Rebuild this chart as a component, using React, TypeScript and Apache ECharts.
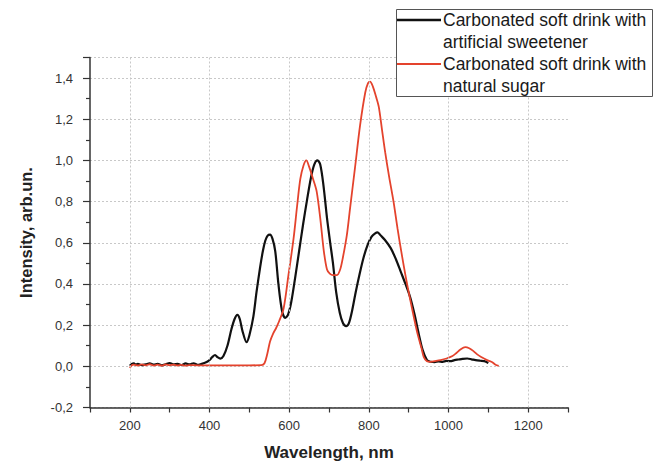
import React, { useEffect, useRef } from "react";
import * as echarts from "echarts";

const blackX = [200,205,210,215,220,230,240,250,260,270,280,290,300,310,320,330,340,350,360,370,380,390,400,407,414,420,427,435,445,455,463,470,476,483,493,500,510,518,527,534,540,546,552,558,565,573,582,590,597,605,615,625,635,645,655,663,671,678,686,695,703,710,718,727,735,743,750,758,767,777,787,797,807,815,822,830,840,855,868,880,892,904,915,925,935,946,955,965,975,985,995,1005,1015,1025,1035,1047,1058,1068,1080,1090,1100];
const blackY = [0.003,0.012,0.015,0.008,0.012,0.006,0.01,0.014,0.008,0.012,0.005,0.01,0.016,0.009,0.012,0.006,0.014,0.009,0.015,0.007,0.012,0.018,0.03,0.045,0.055,0.045,0.037,0.05,0.1,0.18,0.23,0.25,0.23,0.17,0.117,0.15,0.24,0.36,0.48,0.56,0.61,0.635,0.64,0.62,0.56,0.4,0.27,0.235,0.25,0.31,0.43,0.56,0.69,0.81,0.92,0.98,1.0,0.98,0.88,0.72,0.6,0.5,0.36,0.26,0.21,0.195,0.21,0.27,0.36,0.45,0.53,0.59,0.63,0.645,0.651,0.635,0.615,0.574,0.52,0.46,0.4,0.334,0.25,0.16,0.08,0.03,0.022,0.02,0.024,0.022,0.026,0.025,0.03,0.033,0.036,0.038,0.034,0.03,0.027,0.025,0.016];

const redX = [200,205,210,220,230,240,250,260,270,280,290,300,310,320,330,340,350,370,400,450,500,530,538,545,552,560,567,575,586,598,611,620,628,636,643,650,660,669,678,687,695,702,710,720,728,735,745,753,765,778,791,798,803,810,818,825,833,841,851,862,872,883,895,908,922,932,938,946,955,965,980,995,1010,1020,1030,1042,1052,1062,1072,1082,1092,1100,1110,1118,1126];
const redY = [-0.008,0.005,0.008,0.004,0.009,0.005,0.01,0.004,0.008,0.003,0.009,0.005,0.008,0.004,0.007,0.003,0.006,0.005,0.005,0.005,0.005,0.006,0.015,0.06,0.12,0.16,0.185,0.22,0.28,0.44,0.62,0.78,0.91,0.975,1.0,0.97,0.91,0.85,0.72,0.56,0.47,0.45,0.443,0.443,0.47,0.53,0.64,0.77,0.96,1.17,1.33,1.375,1.383,1.36,1.31,1.26,1.15,1.04,0.92,0.8,0.67,0.54,0.41,0.285,0.16,0.09,0.045,0.025,0.022,0.025,0.03,0.038,0.05,0.065,0.082,0.093,0.088,0.075,0.058,0.045,0.035,0.028,0.02,0.008,0.002];

const gridX = [200, 400, 600, 800, 1000, 1200];
const legendLabels = [
  ["Carbonated soft drink with", "artificial sweetener"],
  ["Carbonated soft drink with", "natural sugar"],
];
const seriesColors = ["#111111", "#e4432d"];

export default function App() {
  const ref = useRef<HTMLDivElement>(null);
  useEffect(() => {
    if (!ref.current) return;
    const chart = echarts.init(ref.current, null, { renderer: "svg" });
    const font = "'Liberation Sans', Arial, sans-serif";
    const legendTop = 9;
    const rowH = 22;
    const graphic: any[] = [
      {
        type: "rect",
        shape: { x: 396.5, y: 9.5, width: 256, height: 87 },
        style: { fill: "#fff", stroke: "#555", lineWidth: 1 },
        z: 100,
      },
    ];
    legendLabels.forEach((lines, i) => {
      const y0 = legendTop + 11 + i * 2 * rowH;
      graphic.push({
        type: "line",
        shape: { x1: 397, y1: y0, x2: 441, y2: y0 },
        style: { stroke: seriesColors[i], lineWidth: i === 0 ? 2.5 : 2 },
        z: 101,
      });
      lines.forEach((t, j) => {
        graphic.push({
          type: "text",
          x: 443,
          y: y0 + j * rowH,
          style: {
            text: t,
            font: `17.5px ${font}`,
            fill: "#1a1a1a",
            textVerticalAlign: "middle",
            verticalAlign: "middle",
          },
          z: 101,
        });
      });
    });

    chart.setOption({
      animation: false,
      backgroundColor: "#fff",
      grid: { left: 90, right: 93, top: 57.5, bottom: 54.5 },
      xAxis: {
        type: "value",
        min: 100,
        max: 1300,
        interval: 100,
        name: "Wavelength, nm",
        nameLocation: "middle",
        nameGap: 36.5,
        nameTextStyle: { fontFamily: font, fontSize: 17, fontWeight: "bold", color: "#222" },
        axisLine: { show: true, onZero: false, lineStyle: { color: "#333", width: 1.5 } },
        axisTick: { show: true, length: 5, lineStyle: { color: "#333", width: 1.2 } },
        axisLabel: {
          fontFamily: font,
          fontSize: 13,
          color: "#333",
          margin: 11,
          formatter: (v: number) => (v % 200 === 0 && v <= 1200 ? String(v) : ""),
        },
        splitLine: { show: false },
      },
      yAxis: {
        type: "value",
        min: -0.2,
        max: 1.5,
        interval: 0.2,
        name: "Intensity, arb.un.",
        nameLocation: "middle",
        nameGap: 55.5,
        nameRotate: 90,
        nameTextStyle: { fontFamily: font, fontSize: 16.5, fontWeight: "bold", color: "#222" },
        axisLine: { show: true, onZero: false, lineStyle: { color: "#333", width: 1.5 } },
        axisTick: { show: true, length: 7, lineStyle: { color: "#333", width: 1.2 } },
        minorTick: { show: true, splitNumber: 2, length: 4, lineStyle: { color: "#333", width: 1.2 } },
        axisLabel: {
          fontFamily: font,
          fontSize: 13,
          color: "#333",
          margin: 17,
          formatter: (v: number) => (v > 1.45 ? "" : v.toFixed(1).replace("-0.0", "0.0").replace(".", ",")),
        },
        splitLine: { show: true, lineStyle: { color: "#c8c8c8", type: [2, 2], width: 1 } },
        minorSplitLine: { show: false },
      },
      series: [
        {
          type: "line",
          data: [],
          silent: true,
          z: 1,
          markLine: {
            silent: true,
            symbol: "none",
            label: { show: false },
            lineStyle: { color: "#c8c8c8", type: [2, 2], width: 1 },
            data: gridX.map((x) => ({ xAxis: x })),
          },
        },
        {
          name: "sweetener",
          type: "line",
          data: blackX.map((x, i) => [x, blackY[i]]),
          showSymbol: false,
          smooth: 0.3,
          lineStyle: { color: seriesColors[0], width: 2.2 },
          z: 3,
        },
        {
          name: "sugar",
          type: "line",
          data: redX.map((x, i) => [x, redY[i]]),
          showSymbol: false,
          smooth: 0.3,
          lineStyle: { color: seriesColors[1], width: 1.8 },
          z: 4,
        },
      ],
      graphic,
    });
    return () => chart.dispose();
  }, []);
  return <div ref={ref} style={{ position: "fixed", left: 0, top: 0, width: 661, height: 466 }} />;
}
